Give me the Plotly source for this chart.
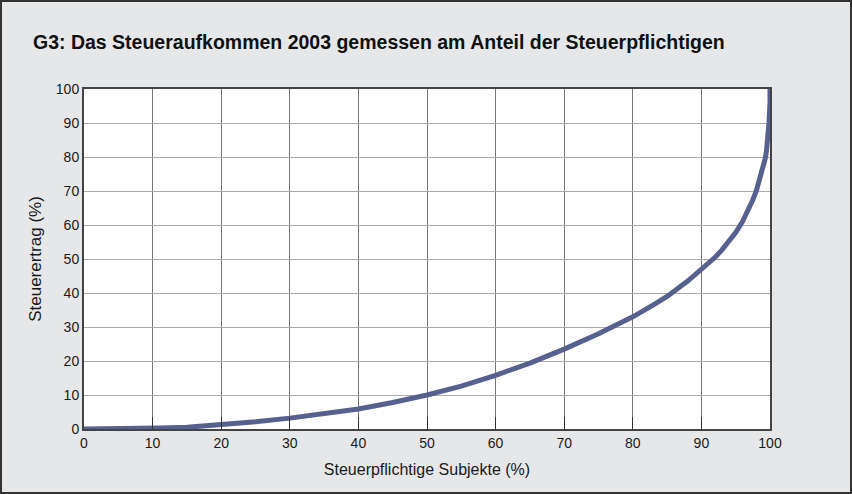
import plotly.graph_objects as go

# Data (Lorenz-type curve)
share_taxpayers = [0, 10, 11, 15, 17, 20, 25, 30, 35, 40, 45, 50, 55, 60, 65, 70, 75, 80,
                   83, 85, 88, 90, 92, 93, 94, 95, 96, 96.5, 97, 97.5, 98, 98.5, 99, 99.3, 99.5, 99.7,
                   99.85, 100, 100]
share_revenue = [0, 0, 0.3, 0.5, 0.8, 1.2, 2.1, 3.2, 4.4, 5.9, 7.8, 10, 12.6, 15.8, 19.4, 23.5, 28, 33,
                 36.5, 39, 43.5, 46.8, 50.5, 52.7, 55, 57.8, 61, 63, 65, 67.4, 70, 73.2, 77, 79.5, 82, 85.5,
                 90, 96, 100]
tick_vals = list(range(0, 101, 10))

title_text = "G3: Das Steueraufkommen 2003 gemessen am Anteil der Steuerpflichtigen"
x_title = "Steuerpflichtige Subjekte (%)"
y_title = "Steuerertrag (%)"

W, H = 852, 494
L, R, T, B = 84, 82, 89, 65
pw, ph = W - L - R, H - T - B

fig = go.Figure()
fig.add_trace(go.Scatter(
    x=share_taxpayers, y=share_revenue, mode="lines",
    line=dict(color="#57618f", width=5), hoverinfo="skip", showlegend=False,
))

font = "Liberation Sans, Arial, sans-serif"
fig.update_layout(
    width=W, height=H,
    margin=dict(l=L, r=R, t=T, b=B),
    paper_bgcolor="#e6e7e9",
    plot_bgcolor="#ffffff",
    font=dict(family=font, color="#1a1a1a", size=13),
    title=dict(text=f"<b>{title_text}</b>", x=33 / W, xanchor="left",
               y=1 - 42 / H, yanchor="middle", font=dict(size=19.5, color="#111")),
    xaxis=dict(range=[0, 100], tickvals=tick_vals, showgrid=True, gridcolor="#777777", gridwidth=1,
               zeroline=False, showline=True, linecolor="#444", linewidth=2, mirror=True,
               ticks="inside", ticklen=12, tickcolor="#333", tickwidth=1,
               tickfont=dict(size=14),
               title=dict(text=x_title, font=dict(size=16), standoff=14)),
    yaxis=dict(range=[0, 100], tickvals=tick_vals, showgrid=True, gridcolor="#aaaaaa", gridwidth=1,
               zeroline=False, showline=True, linecolor="#444", linewidth=2, mirror=True,
               ticks="", tickfont=dict(size=14),
               title=dict(text=y_title, font=dict(size=17), standoff=10)),
    shapes=[dict(type="rect", xref="paper", yref="paper",
                 x0=-(L - 1) / pw, x1=1 + (R - 1) / pw, y0=-(B - 1) / ph, y1=1 + (T - 1) / ph,
                 line=dict(color="#333", width=2), fillcolor="rgba(0,0,0,0)", layer="above")],
)

fig.write_html("out.html")
